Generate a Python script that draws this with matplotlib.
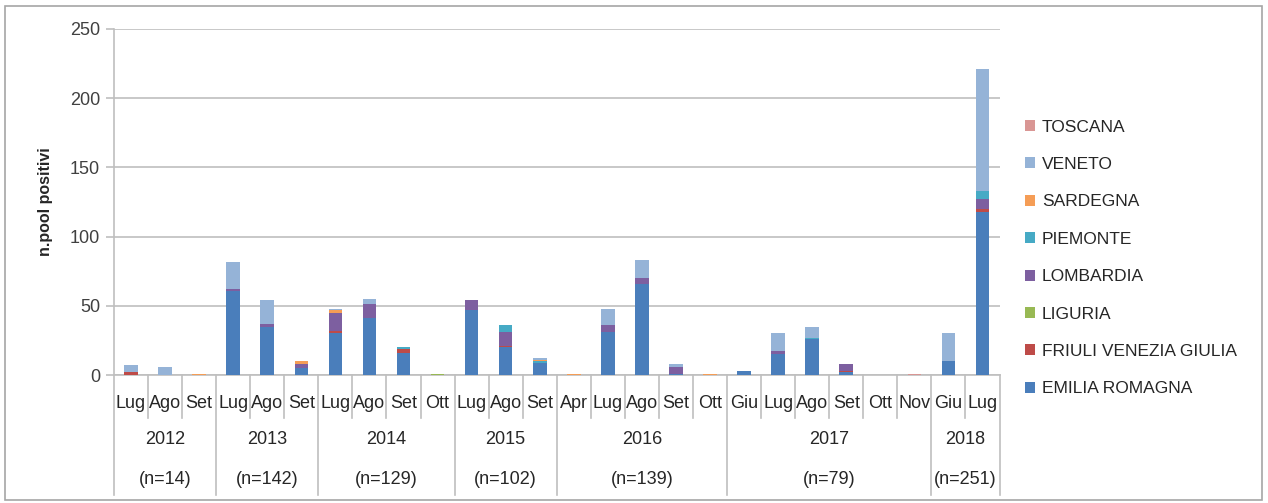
import numpy as np
import matplotlib
matplotlib.use('Agg')
import matplotlib.pyplot as plt
from matplotlib.patches import Rectangle

plt.rcParams['font.family'] = ['Liberation Sans Narrow', 'Liberation Sans', 'DejaVu Sans']

# categorie: mesi raggruppati per anno
years = ['2012', '2013', '2014', '2015', '2016', '2017', '2018']
n_labels = ['(n=14)', '(n=142)', '(n=129)', '(n=102)', '(n=139)', '(n=79)', '(n=251)']
months = [
    ['Lug', 'Ago', 'Set'],
    ['Lug', 'Ago', 'Set'],
    ['Lug', 'Ago', 'Set', 'Ott'],
    ['Lug', 'Ago', 'Set'],
    ['Apr', 'Lug', 'Ago', 'Set', 'Ott'],
    ['Giu', 'Lug', 'Ago', 'Set', 'Ott', 'Nov'],
    ['Giu', 'Lug'],
]

# valori per regione (ordine di impilamento dal basso)
emilia_romagna = [0, 0, 0, 61, 35, 5, 30, 41, 16, 0, 47, 20, 9, 0, 31, 66, 1, 0, 3, 15, 26, 2, 0, 0, 10, 118]
friuli_vg = [2, 0, 0, 0, 0, 0, 2, 0, 3, 0, 0, 1, 0, 0, 0, 0, 0, 0, 0, 0, 0, 1, 0, 0, 0, 2]
liguria = [0, 0, 0, 0, 0, 0, 0, 0, 0, 1, 0, 0, 0, 0, 0, 0, 0, 0, 0, 0, 0, 0, 0, 0, 0, 0]
lombardia = [0, 0, 0, 1, 2, 3, 13, 10, 0, 0, 7, 10, 0, 0, 5, 4, 5, 0, 0, 2, 0, 5, 0, 0, 0, 7]
piemonte = [0, 0, 0, 0, 0, 0, 0, 0, 1, 0, 0, 5, 1, 0, 0, 0, 0, 0, 0, 0, 1, 0, 0, 0, 0, 6]
sardegna = [0, 0, 1, 0, 0, 2, 2, 0, 0, 0, 0, 0, 1, 1, 0, 0, 0, 1, 0, 0, 0, 0, 0, 0, 0, 0]
veneto = [5, 6, 0, 20, 17, 0, 1, 4, 0, 0, 0, 0, 1, 0, 12, 13, 2, 0, 0, 13, 8, 0, 0, 0, 20, 88]
toscana = [0, 0, 0, 0, 0, 0, 0, 0, 0, 0, 0, 0, 0, 0, 0, 0, 0, 0, 0, 0, 0, 0, 0, 1, 0, 0]

series = [
    ('EMILIA ROMAGNA', emilia_romagna, '#4A7EBB'),
    ('FRIULI VENEZIA GIULIA', friuli_vg, '#BE4B48'),
    ('LIGURIA', liguria, '#98B954'),
    ('LOMBARDIA', lombardia, '#7D5FA0'),
    ('PIEMONTE', piemonte, '#46AAC5'),
    ('SARDEGNA', sardegna, '#F59D56'),
    ('VENETO', veneto, '#95B3D7'),
    ('TOSCANA', toscana, '#D99694'),
]

fig = plt.figure(figsize=(12.68, 5.03), dpi=100)
ax = fig.add_axes([114 / 1268, (503 - 375) / 503, (999.5 - 114) / 1268, 346 / 503])

x = np.arange(sum(len(m) for m in months))
bottom = np.zeros(len(x))
handles = []
for name, vals, col in series:
    v = np.array(vals, dtype=float)
    h = ax.bar(x, v, width=0.4, bottom=bottom, color=col, label=name, zorder=3)
    handles.append(h)
    bottom += v

grid_col = '#BFBFBF'
ax.set_xlim(-0.5, len(x) - 0.5)
ax.set_ylim(0, 250)
ax.set_yticks(range(0, 251, 50))
ax.yaxis.grid(True, color=grid_col, linewidth=1.2, zorder=0)
ax.set_xticks([])
for s in ['top', 'right']:
    ax.spines[s].set_visible(False)
ax.spines['left'].set_color(grid_col)
ax.spines['bottom'].set_color(grid_col)
ax.spines['left'].set_linewidth(1.2)
ax.spines['bottom'].set_linewidth(1.2)
ax.tick_params(axis='y', colors=grid_col, length=6, width=1.2, labelcolor='#404040', labelsize=13, pad=4)
ax.set_ylabel('n.pool positivi', fontsize=11.5, fontweight='bold', color='#262626', labelpad=12)

# etichette asse x multilivello
tr = ax.get_xaxis_transform()
lab_kw = dict(transform=tr, ha='center', va='center', color='#262626', clip_on=False)
i = 0
for yr, nl, ms in zip(years, n_labels, months):
    start = i
    for m in ms:
        ax.text(i, -0.081, m, fontsize=13, **lab_kw)
        if i > start:
            ax.plot([i - 0.5, i - 0.5], [0, -0.124], transform=tr, color=grid_col, lw=1.2, clip_on=False)
        i += 1
    mid = (start + i - 1) / 2
    ax.text(mid, -0.185, yr, fontsize=13, **lab_kw)
    ax.text(mid, -0.303, nl, fontsize=13, **lab_kw)
    ax.plot([start - 0.5, start - 0.5], [0, -0.347], transform=tr, color=grid_col, lw=1.2, clip_on=False)
ax.plot([i - 0.5, i - 0.5], [0, -0.347], transform=tr, color=grid_col, lw=1.2, clip_on=False)

# legenda (ordine inverso)
leg = fig.legend(handles[::-1], [s[0] for s in series[::-1]], loc='upper left',
                 bbox_to_anchor=(1016 / 1268, (503 - 111) / 503), frameon=False,
                 fontsize=12.5, handlelength=0.6, handleheight=0.6, handletextpad=0.4,
                 labelspacing=1.29, borderpad=0)
for t in leg.get_texts():
    t.set_color('#262626')

# cornice esterna
fig.patches.append(Rectangle((5 / 1268, 3 / 503), 1257 / 1268, 494 / 503, transform=fig.transFigure,
                             fill=False, edgecolor='#A6A6A6', linewidth=1.2))

fig.savefig('out.png', dpi=100)
